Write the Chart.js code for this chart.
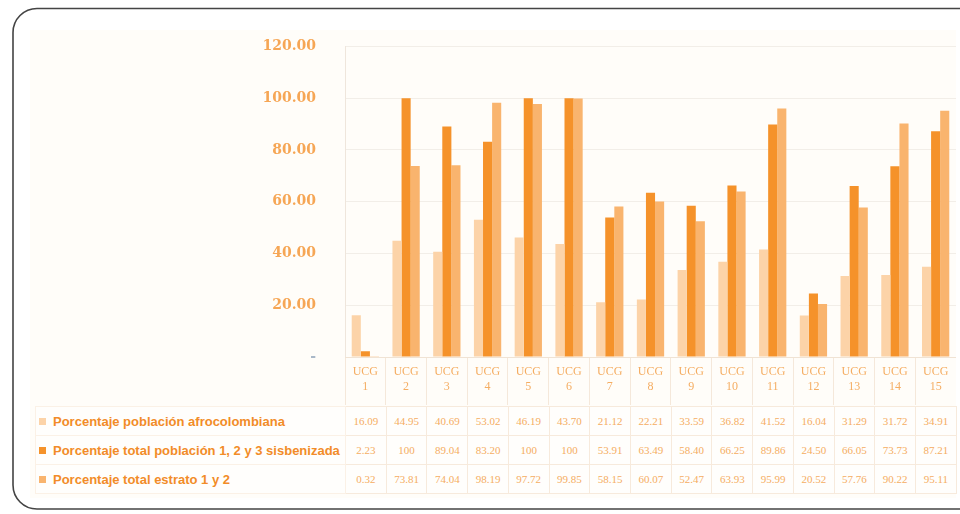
<!DOCTYPE html>
<html><head><meta charset="utf-8">
<script src="https://cdn.jsdelivr.net/npm/chart.js@4/dist/chart.umd.min.js"></script>
<style>
html,body{margin:0;padding:0;background:#fff;width:960px;height:514px;overflow:hidden;position:relative;font-family:"Liberation Sans",Arial,sans-serif;}
#frame{position:absolute;left:0;top:0;width:960px;height:514px;}
#bg{position:absolute;left:30px;top:30px;width:926px;height:468px;background:#fffdf9;}
#wrap{position:absolute;left:30px;top:9px;width:926px;height:396px;}
#tbl{position:absolute;border-collapse:collapse;table-layout:fixed;}
#tbl td{height:28px;padding:0;border:1px solid #f7eadc;text-align:center;font-family:"Liberation Serif",serif;font-size:11px;color:#f5ad62;background:#fffefc;white-space:nowrap;overflow:hidden;}
#tbl td.leg{text-align:left;font-family:"Liberation Sans",Arial,sans-serif;font-weight:bold;font-size:13px;color:#f28c28;padding-left:3px;border-color:#fbf1e6;}
.mk{display:inline-block;width:7px;height:7px;margin-right:7px;vertical-align:1px;}
</style></head>
<body>
<div id="bg"></div>
<div id="wrap"><canvas id="c"></canvas></div>
<table id="tbl"></table>
<svg id="frame" width="960" height="514"><path d="M962 8.5 L37 8.5 A24 24 0 0 0 13 32.5 L13 485 A24 24 0 0 0 37 509 L962 509" fill="none" stroke="#444" stroke-width="1.6"/></svg>
<script>
const categories = ["UCG 1","UCG 2","UCG 3","UCG 4","UCG 5","UCG 6","UCG 7","UCG 8","UCG 9","UCG 10","UCG 11","UCG 12","UCG 13","UCG 14","UCG 15"];
const afro = [16.09,44.95,40.69,53.02,46.19,43.70,21.12,22.21,33.59,36.82,41.52,16.04,31.29,31.72,34.91];
const sisben = [2.23,100,89.04,83.20,100,100,53.91,63.49,58.40,66.25,89.86,24.50,66.05,73.73,87.21];
const estrato = [0.32,73.81,74.04,98.19,97.72,99.85,58.15,60.07,52.47,63.93,95.99,20.52,57.76,90.22,95.11];
const seriesNames = ["Porcentaje población afrocolombiana","Porcentaje total población 1, 2 y 3 sisbenizada","Porcentaje total estrato 1 y 2"];
const colors = ["#fcd3a8","#f5922a","#f9b46e"];
const yTicks = [0,20,40,60,80,100,120];

const canvas = document.getElementById('c');
canvas.width = 926; canvas.height = 396;
const chart = new Chart(canvas, {
  type: 'bar',
  data: {
    labels: categories.map(c => c.split(' ')),
    datasets: [afro, sisben, estrato].map((d, i) => ({
      label: seriesNames[i], data: d, backgroundColor: colors[i],
      barPercentage: 1.0, categoryPercentage: 0.67
    }))
  },
  options: {
    responsive: false, animation: false, devicePixelRatio: 1,
    layout: { padding: { top: 12, right: 0, left: 0, bottom: 0 } },
    plugins: { legend: { display: false }, tooltip: { enabled: false } },
    scales: {
      y: {
        min: 0, max: 120,
        afterBuildTicks: s => { s.ticks = yTicks.map(v => ({ value: v })); },
        afterFit: s => { s.width = 315; },
        ticks: {
          padding: 29,
          font: { family: "'DejaVu Serif', serif", size: 14, weight: 'bold' },
          color: ctx => ctx.tick && ctx.tick.value === 0 ? '#a9b8c8' : '#f6a655',
          callback: v => v === 0 ? '-' : v.toFixed(2)
        },
        grid: { color: '#f2eee8', drawTicks: false },
        border: { color: '#efe6dc' }
      },
      x: {
        afterFit: s => { s.height = 48; },
        ticks: {
          font: { family: "'Liberation Serif', serif", size: 12 },
          color: '#f5ad62', maxRotation: 0, autoSkip: false, padding: -40
        },
        grid: { offset: true, drawOnChartArea: false, tickLength: 48, color: '#f5e8da' },
        border: { color: '#f0e3d4' }
      }
    }
  }
});

// Data table aligned with the category scale
const ca = chart.chartArea;
const n = categories.length;
const step = (ca.right - ca.left) / n;
const tbl = document.getElementById('tbl');
const left0 = 35, wrapLeft = 30;
tbl.style.left = left0 + 'px';
tbl.style.top = '406px';
const legW = wrapLeft + ca.left - left0;
let cg = '<colgroup><col style="width:' + legW + 'px">';
for (let i = 0; i < n; i++) cg += '<col style="width:' + step + 'px">';
cg += '</colgroup>';
const fmt = v => v === 100 ? '100' : v.toFixed(2);
let html = cg;
[afro, sisben, estrato].forEach((d, si) => {
  html += '<tr><td class="leg"><span class="mk" style="background:' + colors[si] + '"></span>' + seriesNames[si] + '</td>';
  d.forEach(v => { html += '<td>' + fmt(v) + '</td>'; });
  html += '</tr>';
});
tbl.innerHTML = html;
tbl.style.width = (legW + step * n) + 'px';
</script>
</body></html>
